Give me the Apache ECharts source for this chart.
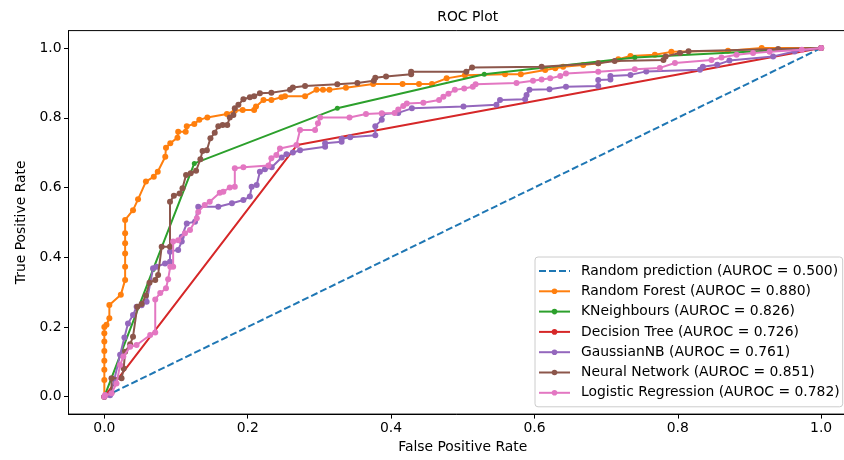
<!DOCTYPE html>
<html>
<head>
<meta charset="utf-8">
<script src="https://cdn.jsdelivr.net/npm/echarts@6/dist/echarts.min.js"></script>
<style>html,body{margin:0;padding:0;background:#fff}#c{width:844px;height:460px}</style>
</head>
<body>
<div id="c"></div>
<script>
const seriesNames = [
  'Random prediction (AUROC = 0.500)',
  'Random Forest (AUROC = 0.880)',
  'KNeighbours (AUROC = 0.826)',
  'Decision Tree (AUROC = 0.726)',
  'GaussianNB (AUROC = 0.761)',
  'Neural Network (AUROC = 0.851)',
  'Logistic Regression (AUROC = 0.782)'
];
const tickValues = [0, 0.2, 0.4, 0.6, 0.8, 1.0];

const randomPts = [[0,0],[1,1]];
const rfPts = [[0,0],[0,0.048],[0,0.077],[0,0.103],[0,0.131],[0,0.158],[0,0.182],[0,0.2],[0.003,0.206],[0.007,0.225],[0.007,0.263],[0.023,0.292],[0.029,0.335],[0.029,0.373],[0.029,0.411],[0.029,0.44],[0.029,0.469],[0.029,0.507],[0.040,0.535],[0.047,0.566],[0.058,0.617],[0.069,0.631],[0.0745,0.645],[0.085,0.688],[0.086,0.714],[0.092,0.727],[0.102,0.743],[0.103,0.76],[0.1135,0.76],[0.115,0.776],[0.1255,0.782],[0.1325,0.794],[0.1437,0.801],[0.171,0.811],[0.182,0.82],[0.193,0.822],[0.209,0.822],[0.2116,0.832],[0.222,0.851],[0.233,0.851],[0.247,0.859],[0.252,0.862],[0.28,0.862],[0.296,0.88],[0.305,0.88],[0.314,0.88],[0.337,0.886],[0.375,0.897],[0.416,0.897],[0.439,0.897],[0.457,0.897],[0.4775,0.913],[0.503,0.922],[0.559,0.925],[0.581,0.925],[0.615,0.937],[0.629,0.942],[0.640,0.946],[0.668,0.951],[0.689,0.956],[0.717,0.968],[0.734,0.977],[0.768,0.981],[0.791,0.989],[0.87,0.992],[0.917,1.0],[1,1]];
const knnPts = [[0,0],[0.068,0.365],[0.1255,0.669],[0.325,0.827],[0.53,0.925],[0.74,0.973],[1,1]];
const dtPts = [[0,0],[0.269,0.722],[1,1]];
const gnbPts = [[0,0],[0.008,0.004],[0.014,0.05],[0.022,0.12],[0.028,0.17],[0.033,0.21],[0.04,0.234],[0.045,0.258],[0.052,0.262],[0.059,0.272],[0.068,0.368],[0.073,0.373],[0.0847,0.382],[0.0916,0.387],[0.0916,0.416],[0.103,0.421],[0.108,0.445],[0.108,0.459],[0.115,0.497],[0.1265,0.502],[0.131,0.545],[0.159,0.545],[0.178,0.555],[0.194,0.564],[0.203,0.574],[0.2055,0.602],[0.2125,0.607],[0.217,0.645],[0.224,0.652],[0.2335,0.658],[0.2474,0.686],[0.254,0.695],[0.263,0.7],[0.273,0.707],[0.308,0.717],[0.308,0.727],[0.331,0.731],[0.331,0.74],[0.343,0.744],[0.378,0.75],[0.378,0.776],[0.387,0.794],[0.388,0.81],[0.41,0.814],[0.429,0.827],[0.501,0.832],[0.547,0.837],[0.552,0.851],[0.587,0.853],[0.589,0.865],[0.593,0.88],[0.621,0.882],[0.644,0.889],[0.689,0.891],[0.689,0.908],[0.706,0.91],[0.706,0.92],[0.734,0.923],[0.756,0.933],[0.831,0.938],[0.835,0.946],[0.855,0.952],[0.872,0.964],[0.933,0.976],[0.963,0.99],[1,1]];
const nnPts = [[0,0],[0.01,0.011],[0.01,0.053],[0.024,0.053],[0.027,0.081],[0.029,0.129],[0.036,0.15],[0.04,0.172],[0.046,0.258],[0.052,0.266],[0.058,0.29],[0.063,0.327],[0.071,0.335],[0.075,0.349],[0.08,0.43],[0.0916,0.43],[0.0916,0.559],[0.097,0.576],[0.105,0.583],[0.109,0.598],[0.114,0.636],[0.1205,0.641],[0.128,0.648],[0.134,0.681],[0.137,0.705],[0.143,0.707],[0.148,0.741],[0.154,0.757],[0.159,0.776],[0.165,0.779],[0.1715,0.779],[0.175,0.801],[0.18,0.808],[0.182,0.827],[0.187,0.837],[0.194,0.853],[0.203,0.859],[0.209,0.862],[0.217,0.87],[0.233,0.872],[0.259,0.88],[0.263,0.887],[0.28,0.891],[0.325,0.896],[0.353,0.9],[0.376,0.906],[0.378,0.915],[0.393,0.918],[0.428,0.925],[0.428,0.932],[0.505,0.932],[0.513,0.944],[0.61,0.946],[0.689,0.956],[0.712,0.963],[0.78,0.966],[0.783,0.976],[0.803,0.986],[0.815,0.991],[0.94,0.997],[1,1]];
const lrPts = [[0,0],[0.001,0.005],[0.01,0.01],[0.017,0.038],[0.022,0.091],[0.0265,0.115],[0.036,0.143],[0.045,0.148],[0.064,0.177],[0.071,0.184],[0.071,0.279],[0.078,0.297],[0.086,0.311],[0.089,0.337],[0.092,0.373],[0.096,0.373],[0.096,0.445],[0.103,0.449],[0.1125,0.469],[0.1195,0.478],[0.129,0.512],[0.131,0.53],[0.14,0.55],[0.147,0.559],[0.161,0.585],[0.166,0.588],[0.175,0.6],[0.182,0.602],[0.182,0.655],[0.194,0.658],[0.229,0.663],[0.233,0.684],[0.24,0.693],[0.245,0.712],[0.268,0.722],[0.273,0.765],[0.294,0.765],[0.298,0.784],[0.301,0.801],[0.342,0.801],[0.365,0.811],[0.387,0.813],[0.405,0.814],[0.41,0.824],[0.417,0.834],[0.422,0.841],[0.445,0.843],[0.467,0.851],[0.473,0.86],[0.48,0.869],[0.489,0.88],[0.502,0.884],[0.514,0.889],[0.518,0.896],[0.575,0.9],[0.598,0.906],[0.61,0.91],[0.622,0.913],[0.636,0.92],[0.644,0.927],[0.689,0.932],[0.74,0.939],[0.775,0.943],[0.796,0.957],[0.847,0.966],[0.861,0.973],[0.882,0.981],[0.905,0.986],[0.928,0.989],[0.973,0.995],[1,1]];

const colors = ['#1f77b4','#ff7f0e','#2ca02c','#d62728','#9467bd','#8c564b','#e377c2'];
const allPts = [randomPts, rfPts, knnPts, dtPts, gnbPts, nnPts, lrPts];
const FONT = 'DejaVu Sans';
const FS = 13.9;
const DASH = [7, 3];

const series = allPts.map((pts, i) => ({
  name: seriesNames[i],
  type: 'line',
  data: pts,
  symbol: i === 0 ? 'none' : 'circle',
  symbolSize: (i === 2 || i === 3) ? 5 : 6,
  showSymbol: i !== 0,
  lineStyle: { color: colors[i], width: 2, type: i === 0 ? DASH : 'solid' },
  itemStyle: { color: colors[i] },
  emphasis: { disabled: true },
  silent: true,
  z: 2 + i
}));

const legendData = seriesNames.map((n, i) => i === 0
  ? { name: n, itemStyle: { color: 'rgba(0,0,0,0)', opacity: 0 }, lineStyle: { color: colors[0], width: 2, type: DASH } }
  : { name: n });

const chart = echarts.init(document.getElementById('c'), null, { renderer: 'canvas' });
chart.setOption({
  animation: false,
  backgroundColor: '#fff',
  title: {
    text: 'ROC Plot', left: 462.7, top: 5, textAlign: 'center',
    textStyle: { fontFamily: FONT, fontSize: FS, fontWeight: 'normal', color: '#000' }
  },
  grid: {
    left: 68.5, top: 30.6, width: 788.5, height: 383.5,
    containLabel: false, outerBoundsMode: 'none',
    show: true, borderColor: '#000', borderWidth: 1, backgroundColor: 'transparent'
  },
  xAxis: {
    type: 'value', min: -0.05, max: 1.05,
    name: 'False Positive Rate', nameLocation: 'middle', nameGap: 25,
    nameTextStyle: { fontFamily: FONT, fontSize: FS, color: '#000' },
    axisLine: { show: true, onZero: false, lineStyle: { color: '#000', width: 1 } },
    axisTick: { show: true, length: 4.5, customValues: tickValues, lineStyle: { color: '#000' } },
    axisLabel: { customValues: tickValues, margin: 7, fontFamily: FONT, fontSize: FS, color: '#000',
      formatter: v => v.toFixed(1) },
    splitLine: { show: false }
  },
  yAxis: {
    type: 'value', min: -0.05, max: 1.05,
    name: 'True Positive Rate', nameLocation: 'middle', nameGap: 33.5,
    nameTextStyle: { fontFamily: FONT, fontSize: FS, color: '#000' },
    axisLine: { show: true, onZero: false, lineStyle: { color: '#000', width: 1 } },
    axisTick: { show: true, length: 4.5, customValues: tickValues, lineStyle: { color: '#000' } },
    axisLabel: { customValues: tickValues, margin: 7, fontFamily: FONT, fontSize: FS, color: '#000',
      formatter: v => v.toFixed(1) },
    splitLine: { show: false }
  },
  legend: {
    orient: 'vertical', left: 535, top: 257,
    data: legendData,
    itemWidth: 31, itemHeight: 7, itemGap: 6.3,
    padding: [7, 3, 7, 3],
    backgroundColor: 'rgba(255,255,255,0.8)', borderColor: '#cccccc', borderWidth: 1, borderRadius: 3,
    selectedMode: false,
    textStyle: { fontFamily: FONT, fontSize: FS, color: '#000', lineHeight: 14, padding: [0, 0, 0, 6] }
  },
  series: series
});
</script>
</body>
</html>
